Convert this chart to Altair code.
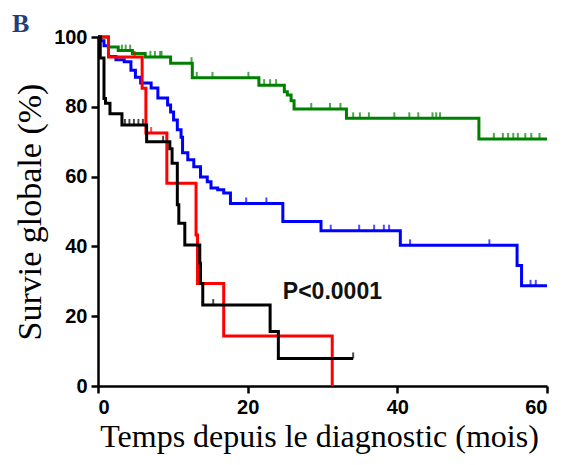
import altair as alt
import pandas as pd

# Kaplan-Meier step curves (time in months, survival in %)
green_t = [0, 1.4, 2.7, 4.6, 6.3, 9.7, 12.6, 21.5, 24.9, 25.3, 25.8, 26.2, 26.7, 33.2, 50.9, 60]
green_s = [100, 97.1, 96.1, 95.3, 94.3, 92.5, 88.3, 86.2, 84.3, 83.4, 81.7, 79.4, 79.4, 76.7, 70.8, 70.8]
green_c = [3.2, 3.7, 4.3, 7.0, 7.6, 8.3, 8.5, 12.5, 13.2, 15.3, 20.1, 22.2, 23.0, 23.8, 28.5, 31.0, 32.4,
           34.1, 35.0, 36.2, 39.6, 41.6, 42.8, 44.7, 45.2, 45.7, 52.9, 54.1, 54.8, 55.5, 56.1, 57.1, 57.9, 59.0]

blue_t = [0, 0.4, 0.8, 1.4, 2.4, 3.5, 4.4, 5.0, 5.7, 7.1, 8.0, 9.3, 9.7, 10.1, 10.6, 11.1, 11.3, 12.0,
          12.8, 13.7, 14.6, 15.1, 16.0, 16.8, 17.7, 24.7, 29.8, 40.4, 56.0, 56.6, 60]
blue_s = [100, 98.9, 97.5, 94.4, 93.5, 92.9, 90.5, 88.5, 86.8, 85.4, 82.5, 80.5, 78.5, 76.2, 73.4, 71.3,
          66.8, 64.8, 62.8, 59.9, 58.5, 56.7, 56.2, 55.3, 52.3, 47.1, 44.5, 40.3, 34.5, 28.7, 28.7]
blue_c = [19.8, 22.5, 31.1, 34.9, 36.9, 38.2, 38.9, 41.7, 52.3, 57.8, 58.5]

red_t = [0, 1.4, 5.9, 6.4, 9.2, 13.1, 13.3, 16.8, 31.3]
red_s = [100, 94.3, 85.3, 72.5, 58.1, 43.3, 29.4, 14.3, 0]
red_c = [4.9, 7.1]

black_t = [0, 0.3, 0.8, 1.0, 1.6, 3.2, 6.5, 9.6, 9.9, 10.6, 10.8, 11.6, 13.6, 13.7, 14.0, 23.0, 24.1, 34.1]
black_s = [100, 94, 82.4, 81, 78, 74.8, 70, 68, 63.8, 51.9, 46.6, 40.4, 35.2, 29.4, 23.2, 15.6, 7.9, 7.9]
black_c = [3.6, 4.2, 4.8, 5.4, 6.0, 8.7, 15.4, 34.1]

x_ticks = [0, 20, 40, 60]
y_ticks = [0, 20, 40, 60, 80, 100]

series = [
    ("green", green_t, green_s, green_c, "#008000"),
    ("blue", blue_t, blue_s, blue_c, "#0000ff"),
    ("red", red_t, red_s, red_c, "#ff0000"),
    ("black", black_t, black_s, black_c, "#000000"),
]


def step_value(ts, ss, t):
    v = ss[0]
    for ti, si in zip(ts, ss):
        if ti <= t:
            v = si
    return v


line_rows, cens_rows = [], []
for name, ts, ss, cs, col in series:
    for i, (t, s) in enumerate(zip(ts, ss)):
        line_rows.append({"g": name, "t": t, "s": s, "o": i})
    for c in cs:
        cens_rows.append({"g": name, "t": c, "s": step_value(ts, ss, c)})

lines_df = pd.DataFrame(line_rows)
cens_df = pd.DataFrame(cens_rows)

names = [s[0] for s in series]
colors = [s[4] for s in series]
color_scale = alt.Scale(domain=names, range=colors)

xs = alt.Scale(domain=[0, 60], nice=False, zero=False)
ys = alt.Scale(domain=[0, 100], nice=False)

x_axis = alt.Axis(values=x_ticks, title="Temps depuis le diagnostic (mois)", grid=False,
                  labelAngle=0, titlePadding=4, titleFontSize=32, titleX=221)
y_axis = alt.Axis(values=y_ticks, title="Survie globale (%)", grid=False, titlePadding=6,
                  titleFontSize=34)

lines = alt.Chart(lines_df).mark_line(interpolate="step-after", strokeWidth=3, clip=False).encode(
    x=alt.X("t:Q", scale=xs, axis=x_axis),
    y=alt.Y("s:Q", scale=ys, axis=y_axis),
    color=alt.Color("g:N", scale=color_scale, legend=None),
    detail="g:N",
    order="o:Q",
)

ticks = alt.Chart(cens_df).mark_tick(orient="vertical", size=6, thickness=2, yOffset=-3).encode(
    x=alt.X("t:Q", scale=xs),
    y=alt.Y("s:Q", scale=ys),
    color=alt.Color("g:N", scale=color_scale, legend=None),
)

ptext = alt.Chart(pd.DataFrame({"t": [24.7], "s": [26.9], "label": ["P<0.0001"]})).mark_text(
    align="left", baseline="middle", font="Liberation Sans", fontWeight="bold", fontSize=23, color="#111111"
).encode(x=alt.X("t:Q", scale=xs), y=alt.Y("s:Q", scale=ys), text="label:N")

panel = alt.Chart(pd.DataFrame({"label": ["B"]})).mark_text(
    align="left", baseline="alphabetic", font="Liberation Serif", fontWeight="bold", fontSize=26,
    color="#1f3f7a"
).encode(x=alt.value(-86), y=alt.value(-5), text="label:N")

chart = alt.layer(lines, ticks, ptext, panel).properties(
    width=449, height=349,
    autosize=alt.AutoSizeParams(type="none"),
    padding={"left": 90, "top": 29, "right": 14, "bottom": 71},
).configure_view(stroke=None).configure_axis(
    domainColor="black", domainWidth=2.5, tickColor="black", tickWidth=2.5, tickSize=7,
    labelFont="Liberation Sans", labelFontWeight="bold", labelFontSize=20, labelColor="black",
    labelPadding=4,
    titleFont="Liberation Serif", titleFontWeight="normal", titleColor="black",
)

chart.save("out.html", embed_options={"renderer": "svg", "actions": False})
